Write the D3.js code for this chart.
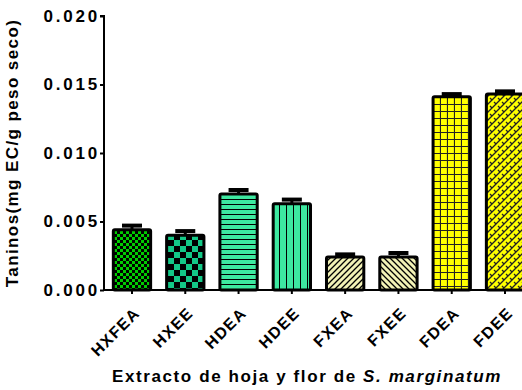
<!DOCTYPE html>
<html>
<head>
<meta charset="utf-8">
<script src="https://cdn.jsdelivr.net/npm/d3@7/dist/d3.min.js"></script>
<style>
  html, body { margin: 0; padding: 0; background: #fff; }
  svg { display: block; font-family: "Liberation Sans", Arial, sans-serif; }
</style>
</head>
<body>
<svg id="chart" width="522" height="390"></svg>
<script>
// Extract categories, mean tannin content and error (SEM)
const categories = ["HXFEA", "HXEE", "HDEA", "HDEE", "FXEA", "FXEE", "FDEA", "FDEE"];
const values = [0.0044, 0.0040, 0.0070, 0.0063, 0.0024, 0.0024, 0.0141, 0.0143];
const errors = [0.0003, 0.0003, 0.0003, 0.0003, 0.0002, 0.0003, 0.0002, 0.0002];
const yTicks = [0.000, 0.005, 0.010, 0.015, 0.020];

const FONT = "Liberation Sans, Arial, sans-serif";
const svg = d3.select("#chart");
const defs = svg.append("defs");

// Fill patterns for each bar
function pat(id, w, h, bg, draw) {
  const p = defs.append("pattern").attr("id", id)
    .attr("patternUnits", "userSpaceOnUse").attr("width", w).attr("height", h);
  p.append("rect").attr("width", w).attr("height", h).attr("fill", bg);
  draw(p);
}
// small green checker
pat("p0", 6, 6, "#00cc00", p => {
  p.append("rect").attr("x", 0).attr("y", 0).attr("width", 3).attr("height", 3).attr("fill", "#000");
  p.append("rect").attr("x", 3).attr("y", 3).attr("width", 3).attr("height", 3).attr("fill", "#000");
});
// larger teal checker
pat("p1", 12, 12, "#13c987", p => {
  p.append("rect").attr("x", 0).attr("y", 0).attr("width", 6).attr("height", 6).attr("fill", "#000");
  p.append("rect").attr("x", 6).attr("y", 6).attr("width", 6).attr("height", 6).attr("fill", "#000");
});
// horizontal stripes
pat("p2", 6, 5, "#3de8a0", p => {
  p.append("rect").attr("x", 0).attr("y", 4).attr("width", 6).attr("height", 1).attr("fill", "#000");
});
// vertical stripes
pat("p3", 7, 6, "#3de8a0", p => {
  p.append("rect").attr("x", 6).attr("y", 0).attr("width", 1.5).attr("height", 6).attr("fill", "#000");
});
// forward diagonal
pat("p4", 6, 6, "#f2f2b6", p => {
  p.append("path").attr("d", "M0,6 L6,0 M-1,1 L1,-1 M5,7 L7,5").attr("stroke", "#000").attr("stroke-width", 1.3);
});
// backward diagonal
pat("p5", 6, 6, "#f2f2b6", p => {
  p.append("path").attr("d", "M0,0 L6,6 M-1,5 L1,7 M5,-1 L7,1").attr("stroke", "#000").attr("stroke-width", 1.3);
});
// yellow grid
pat("p6", 7, 7, "#ffff00", p => {
  p.append("path").attr("d", "M0,6.5 H7 M6.5,0 V7").attr("stroke", "#222").attr("stroke-width", 1.2);
});
// yellow brick diagonal
pat("p7", 8, 8, "#ffff00", p => {
  p.append("path").attr("d", "M0,8 L8,0 M-2,2 L2,-2 M6,10 L10,6 M2,2 L4,4 M6,6 L8,8").attr("stroke", "#222").attr("stroke-width", 1.3);
});

const m = { left: 104, top: 16, bottom: 290 };
const x = d3.scaleBand().domain(categories).range([m.left, m.left + 429])
  .paddingInner(0.3).paddingOuter(0.175);
const y = d3.scaleLinear().domain([0, 0.020]).range([m.bottom, m.top]);

// Bars with upper error caps
const g = svg.append("g");
categories.forEach((c, i) => {
  const x0 = x(c), bw = x.bandwidth();
  g.append("rect")
    .attr("x", x0).attr("y", y(values[i]))
    .attr("width", bw).attr("height", y(0) - y(values[i]))
    .attr("rx", 1.5)
    .attr("fill", `url(#p${i})`)
    .attr("stroke", "#000").attr("stroke-width", 3);
  const cx = x0 + bw / 2;
  g.append("line").attr("x1", cx).attr("x2", cx)
    .attr("y1", y(values[i])).attr("y2", y(values[i] + errors[i]))
    .attr("stroke", "#000").attr("stroke-width", 3);
  g.append("line").attr("x1", cx - 10).attr("x2", cx + 10)
    .attr("y1", y(values[i] + errors[i])).attr("y2", y(values[i] + errors[i]))
    .attr("stroke", "#000").attr("stroke-width", 4);
});

// Y axis
const yAxis = d3.axisLeft(y).tickValues(yTicks).tickFormat(d3.format(".3f")).tickSize(4).tickPadding(0);
const ya = svg.append("g").attr("transform", `translate(${m.left},0)`).call(yAxis);
ya.select(".domain").attr("stroke-width", 2).attr("d", `M-4,${m.top}H0V${m.bottom}`);
ya.selectAll(".tick line").attr("stroke-width", 2);
ya.selectAll(".tick text").attr("font-size", 17).attr("font-weight", "bold").attr("fill", "#000")
  .attr("font-family", FONT).attr("letter-spacing", 2.8);

// X axis
const xAxis = d3.axisBottom(x).tickSize(4).tickSizeOuter(0);
const xa = svg.append("g").attr("transform", `translate(0,${m.bottom})`).call(xAxis);
xa.select(".domain").attr("stroke-width", 2).attr("d", `M${m.left - 1},0H522`);
xa.selectAll(".tick line").attr("stroke-width", 2);
xa.selectAll(".tick text")
  .attr("font-size", 16).attr("font-weight", "bold").attr("fill", "#000")
  .attr("font-family", FONT).attr("letter-spacing", 1.4)
  .attr("text-anchor", "end")
  .attr("dy", null).attr("y", 0).attr("x", 0)
  .attr("transform", "translate(9,24) rotate(-45)");

// Axis titles
svg.append("text")
  .attr("transform", "translate(18,153) rotate(-90)")
  .attr("text-anchor", "middle")
  .attr("font-size", 17).attr("font-weight", "bold")
  .attr("letter-spacing", 1.4)
  .text("Taninos(mg EC/g peso seco)");

const xt = svg.append("text")
  .attr("x", 307).attr("y", 382)
  .attr("text-anchor", "middle")
  .attr("font-size", 17).attr("font-weight", "bold")
  .attr("letter-spacing", 1.6);
xt.append("tspan").text("Extracto de hoja y flor de ");
xt.append("tspan").attr("font-style", "italic").text("S. marginatum");
</script>
</body>
</html>
